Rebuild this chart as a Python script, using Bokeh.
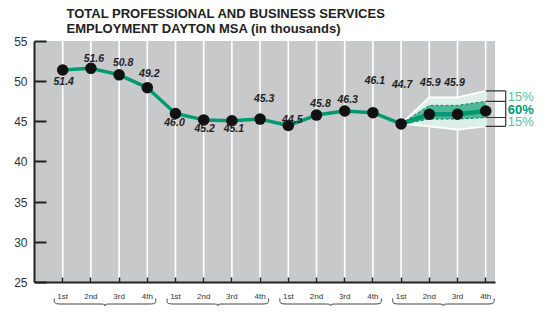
from bokeh.plotting import figure
from bokeh.models import Range1d, FixedTicker
from bokeh.embed import file_html
from bokeh.resources import INLINE
from bokeh.core.properties import value as pval

# ---------------- data ----------------
title_lines = ["TOTAL PROFESSIONAL AND BUSINESS SERVICES",
               "EMPLOYMENT DAYTON MSA (in thousands)"]
quarter_labels = ["1st", "2nd", "3rd", "4th"] * 4
quarter_x = list(range(1, 17))
employment = [51.4, 51.6, 50.8, 49.2, 46.0, 45.2, 45.1, 45.3,
              44.5, 45.8, 46.3, 46.1, 44.7, 45.9, 45.9, 46.3]
value_labels = ["51.4", "51.6", "50.8", "49.2", "46.0", "45.2", "45.1", "45.3",
                "44.5", "45.8", "46.3", "46.1", "44.7", "45.9", "45.9"]
forecast_x = [13, 14, 15, 16]
outer_hi = [44.7, 48.0, 48.0, 48.8]
inner_hi = [44.7, 47.0, 47.0, 47.5]
inner_lo = [44.7, 45.3, 45.3, 45.5]
outer_lo = [44.7, 44.4, 44.0, 44.4]
band_labels = ["15%", "60%", "15%"]
y_ticks = [25, 30, 35, 40, 45, 50, 55]

# label placement (pixels, +down)
label_dx = [1, 3, 4, 2, -1, 1, 2, 4, 4, 4, 3, 2, 1, 1, -3]
label_dy = [11, -10, -13, -15, 9, 8, 7, -21, -7, -12, -12, -33, -40, -32, -32]

# ---------------- layout constants ----------------
FONT = "Liberation Sans"
W = 537
H = 306
LEFT = 34
PX_X = 28.2
X_END = (W - LEFT) / PX_X
PLOT_RIGHT = 16.33
Y0, Y1 = 25, 55
PX_Y = 241.5 / 30
AXIS_PX = 282          # pixel row (from figure top) of y = 25
Y_START = Y0 - (H - AXIS_PX) / PX_Y
Y_END = Y0 + AXIS_PX / PX_Y

GRAY = "#c8c9cb"
TEAL = "#009a72"
TEAL_MID = "#4fb896"
TEAL_LIGHT = "#dcefe8"
TEAL_TEXT = "#5cc0a0"
INK = "#222222"


def below_axis(px):
    """pixel distance below the x axis -> data y"""
    return Y0 - px / PX_Y


p = figure(width=W, height=H, title=None,
           x_range=Range1d(0, X_END), y_range=Range1d(Y_START, Y_END),
           toolbar_location=None, output_backend="svg",
           min_border_left=LEFT, min_border_right=0,
           min_border_top=0, min_border_bottom=0)
p.outline_line_color = None
p.grid.visible = False
p.background_fill_color = "white"
p.border_fill_color = "white"

# plot area
p.quad(left=0, right=PLOT_RIGHT, bottom=Y0, top=Y1, fill_color=GRAY, line_color=None)
p.segment(x0=quarter_x, y0=[Y0] * 16, x1=quarter_x, y1=[Y1] * 16,
          line_color="white", line_width=1.6)

# forecast bands
p.varea(x=forecast_x, y1=outer_lo, y2=outer_hi, fill_color=TEAL_LIGHT)
p.varea(x=forecast_x, y1=inner_lo, y2=inner_hi, fill_color=TEAL_MID)
p.line(forecast_x, outer_hi, line_color="white", line_width=1.8)
p.line(forecast_x, outer_lo, line_color="white", line_width=1.8)
p.line(forecast_x, inner_hi, line_color="#0b7d5c", line_width=1, line_dash="3 2")
p.line(forecast_x, inner_lo, line_color="#0b7d5c", line_width=1, line_dash="3 2")

# main line
p.line(quarter_x[:13], employment[:13], line_color=TEAL, line_width=3.5, line_join="round")
p.line(forecast_x, employment[12:], line_color=TEAL, line_width=4.5, line_join="round")
p.scatter(quarter_x, employment, size=11.5, fill_color="#111111", line_color=None)

# value labels
lx = [quarter_x[i] + label_dx[i] / PX_X for i in range(len(value_labels))]
ly = [employment[i] - label_dy[i] / PX_Y for i in range(len(value_labels))]
p.text(x=lx, y=ly, text=value_labels, text_font=pval(FONT), text_font_size="10.5px",
       text_font_style="bold italic", text_color=INK,
       text_align="center", text_baseline="middle")

# bracket with percentages
bx1 = forecast_x[-1] + 20 / PX_X
levels = [outer_hi[-1], inner_hi[-1], inner_lo[-1], outer_lo[-1]]
p.segment(x0=[forecast_x[-1]] * 4, y0=levels, x1=[bx1] * 4, y1=levels,
          line_color="#333333", line_width=1.2)
p.segment(x0=[bx1], y0=[levels[0]], x1=[bx1], y1=[levels[-1]],
          line_color="#333333", line_width=1.2)
mids = [(levels[i] + levels[i + 1]) / 2 for i in range(3)]
p.text(x=[bx1 + 2 / PX_X] * 3, y=mids, text=band_labels, text_font=pval(FONT),
       text_font_size="13px", text_font_style=["normal", "bold", "normal"],
       text_color=[TEAL_TEXT, TEAL, TEAL_TEXT],
       text_align="left", text_baseline="middle")

# title
tx = 32 / PX_X
ty = [Y_END - 13 / PX_Y, Y_END - 28 / PX_Y]
p.text(x=[tx, tx], y=ty, text=title_lines, text_font=pval(FONT),
       text_font_size="13px", text_font_style="bold", text_color=INK,
       text_align="left", text_baseline="middle")

# axes
p.yaxis.ticker = FixedTicker(ticks=y_ticks)
p.yaxis.bounds = (Y0, Y1)
p.yaxis.major_tick_in = 12
p.yaxis.major_tick_out = 0
p.yaxis.minor_tick_line_color = None
p.yaxis.axis_line_width = 2
p.yaxis.major_tick_line_width = 2
p.yaxis.axis_line_color = INK
p.yaxis.major_tick_line_color = INK
p.yaxis.major_label_text_font = FONT
p.yaxis.major_label_text_font_size = "12px"
p.yaxis.major_label_text_color = "#333333"
p.yaxis.major_label_standoff = 7

p.xaxis.fixed_location = Y0
p.xaxis.ticker = FixedTicker(ticks=quarter_x)
p.xaxis.major_label_overrides = {x: lab for x, lab in zip(quarter_x, quarter_labels)}
p.xaxis.bounds = (0, PLOT_RIGHT)
p.xaxis.major_tick_in = 5
p.xaxis.major_tick_out = 0
p.xaxis.minor_tick_line_color = None
p.xaxis.axis_line_width = 2
p.xaxis.major_tick_line_width = 1.5
p.xaxis.axis_line_color = INK
p.xaxis.major_tick_line_color = INK
p.xaxis.major_label_text_font = FONT
p.xaxis.major_label_text_font_size = "8px"
p.xaxis.major_label_text_color = "#333333"
p.xaxis.major_label_standoff = 9

# braces under each year
bz = dict(x0=[], y0=[], x1=[], y1=[], cx0=[], cy0=[], cx1=[], cy1=[])
seg = dict(x0=[], y0=[], x1=[], y1=[])
y_top, y_mid, y_bot = below_axis(16), below_axis(21.5), below_axis(23.8)
r = 0.35
for k in range(0, len(quarter_x), 4):
    a = quarter_x[k] - 0.3
    b = quarter_x[k + 3] + 0.3
    c = (a + b) / 2
    for s, e in ((a, c), (b, c)):
        d = r if e > s else -r
        bz["x0"].append(s); bz["y0"].append(y_top)
        bz["x1"].append(s + d); bz["y1"].append(y_mid)
        bz["cx0"].append(s); bz["cy0"].append(y_mid)
        bz["cx1"].append(s); bz["cy1"].append(y_mid)
        bz["x0"].append(e - d); bz["y0"].append(y_mid)
        bz["x1"].append(e); bz["y1"].append(y_bot)
        bz["cx0"].append(e); bz["cy0"].append(y_mid)
        bz["cx1"].append(e); bz["cy1"].append(y_mid)
        seg["x0"].append(s + d); seg["y0"].append(y_mid)
        seg["x1"].append(e - d); seg["y1"].append(y_mid)
p.bezier(line_color="#444444", line_width=1, **bz)
p.segment(line_color="#444444", line_width=1, **seg)

open("out.html", "w").write(file_html(p, INLINE))
